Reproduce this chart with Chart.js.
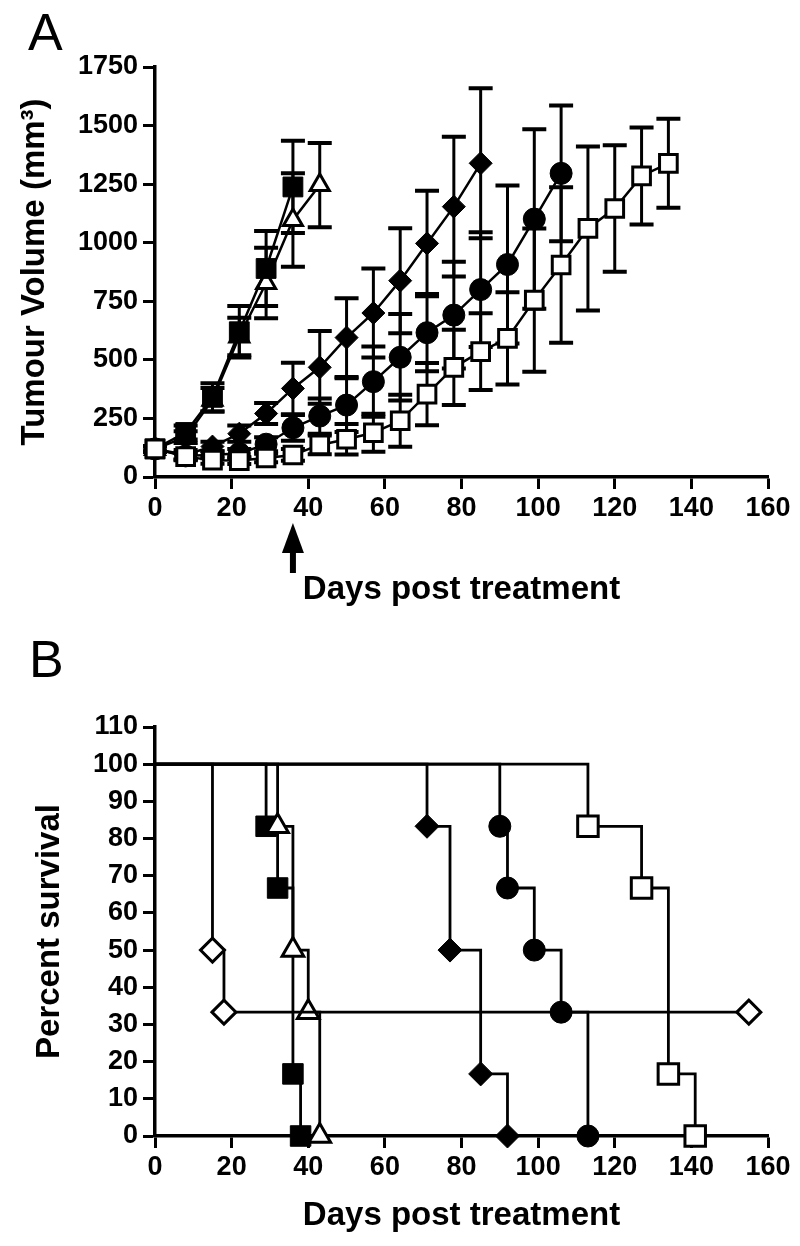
<!DOCTYPE html>
<html>
<head>
<meta charset="utf-8">
<script src="https://cdn.jsdelivr.net/npm/chart.js@4.4.1/dist/chart.umd.min.js"></script>
<style>
  body { margin: 0; background: #fff; width: 800px; height: 1246px; position: relative; overflow: hidden; }
  canvas { position: absolute; left: 0; }
  #chartA { top: 0; }
  #chartB { top: 620px; }
  .panel { position: absolute; font-family: "Liberation Sans", Arial, sans-serif; font-size: 52px; line-height: 52px; color: #000; }
</style>
</head>
<body>
<canvas id="chartA" width="800" height="620"></canvas>
<canvas id="chartB" width="800" height="626"></canvas>
<div class="panel" style="left:28px; top:6px;">A</div>
<div class="panel" style="left:29px; top:633px;">B</div>
<script>
// ---- panel A: tumour volume ----
var tumourDays = [0, 8, 15, 22, 29, 36, 43, 50, 57, 64, 71, 78, 85, 92, 99, 106, 113, 120, 127, 134];

var openSquareVol = [120, 87, 72, 70, 81, 94, 137, 161, 189, 240, 354, 468, 535, 592, 755, 905, 1061, 1146, 1285, 1339];
var openSquareErr = [12, 15, 15, 15, 18, 25, 40, 65, 81, 111, 133, 161, 164, 197, 306, 332, 350, 270, 207, 190];

var filledSquareVol = [120, 190, 340, 620, 890, 1238];
var filledSquareErr = [12, 30, 60, 110, 160, 197];

var triangleVol = [120, 170, 330, 600, 828, 1097, 1246];
var triangleErr = [12, 25, 50, 80, 150, 200, 180];

var diamondVol = [120, 95, 130, 185, 271, 378, 468, 595, 700, 838, 997, 1154, 1339];
var diamondErr = [12, 20, 20, 35, 45, 110, 155, 168, 190, 224, 225, 298, 320];

var circleVol = [120, 90, 95, 100, 140, 210, 260, 307, 407, 511, 616, 691, 800, 907, 1101, 1296];
var circleErr = [12, 15, 15, 20, 30, 55, 75, 115, 150, 185, 165, 228, 245, 337, 383, 290];

var volumeTicks = [0, 250, 500, 750, 1000, 1250, 1500, 1750];
var dayTicks = [0, 20, 40, 60, 80, 100, 120, 140, 160];
var arrowDay = 36;

// ---- panel B: survival ----
var survOpenDiamondDays = [0, 15, 18, 155];
var survOpenDiamondPct = [100, 50, 33.3, 33.3];
var survFilledSquareDays = [0, 29, 32, 36, 38];
var survFilledSquarePct = [100, 83.3, 66.7, 16.7, 0];
var survTriangleDays = [0, 32, 36, 40, 43];
var survTrianglePct = [100, 83.3, 50, 33.3, 0];
var survDiamondDays = [0, 71, 77, 85, 92];
var survDiamondPct = [100, 83.3, 50, 16.7, 0];
var survCircleDays = [0, 90, 92, 99, 106, 113];
var survCirclePct = [100, 83.3, 66.7, 50, 33.3, 0];
var survOpenSquareDays = [0, 113, 127, 134, 141];
var survOpenSquarePct = [100, 83.3, 66.7, 16.7, 0];

var survivalTicks = [0, 10, 20, 30, 40, 50, 60, 70, 80, 90, 100, 110];

var fontFamily = '"Liberation Sans", Arial, sans-serif';

// draws mean +/- error bars under the markers
var errorBarPlugin = {
    id: 'errorBars',
    beforeDatasetsDraw: function (chart) {
        var ctx = chart.ctx;
        var xs = chart.scales.x, ys = chart.scales.y;
        ctx.save();
        ctx.strokeStyle = '#000';
        chart.data.datasets.forEach(function (ds) {
            if (!ds.errorBars) return;
            ds.data.forEach(function (p, j) {
                var e = ds.errorBars[j];
                var x = xs.getPixelForValue(p.x);
                var yTop = ys.getPixelForValue(p.y + e);
                var yBot = ys.getPixelForValue(p.y - e);
                ctx.lineWidth = 3;
                ctx.beginPath();
                ctx.moveTo(x, yTop);
                ctx.lineTo(x, yBot);
                ctx.stroke();
                ctx.lineWidth = 4;
                ctx.beginPath();
                ctx.moveTo(x - 12, yTop); ctx.lineTo(x + 12, yTop);
                ctx.moveTo(x - 12, yBot); ctx.lineTo(x + 12, yBot);
                ctx.stroke();
            });
        });
        ctx.restore();
    }
};

// treatment arrow below the x axis
var arrowPlugin = {
    id: 'treatmentArrow',
    afterDraw: function (chart) {
        var ctx = chart.ctx;
        var x = chart.scales.x.getPixelForValue(arrowDay);
        var b = chart.chartArea.bottom;
        ctx.save();
        ctx.fillStyle = '#000';
        ctx.beginPath();
        ctx.moveTo(x, b + 46);
        ctx.lineTo(x + 11, b + 76);
        ctx.lineTo(x - 11, b + 76);
        ctx.closePath();
        ctx.fill();
        ctx.fillRect(x - 3, b + 74, 6, 22);
        ctx.restore();
    }
};

function plainLabel(v) { return String(v); }

function xAxis(height) {
    return {
        type: 'linear', min: 0, max: 160,
        afterBuildTicks: function (s) { s.ticks = dayTicks.map(function (v) { return {value: v}; }); },
        afterFit: function (s) { s.height = height; },
        grid: { drawOnChartArea: false, drawTicks: true, tickLength: 12, tickWidth: 3, tickColor: '#000' },
        border: { display: true, color: '#000', width: 3.5 },
        ticks: { color: '#000', padding: 3, maxRotation: 0, autoSkip: false, callback: plainLabel,
                 font: { family: fontFamily, size: 27, weight: 'bold' } },
        title: { display: true, text: 'Days post treatment', color: '#000',
                 padding: { top: 0, bottom: 10 },
                 font: { family: fontFamily, size: 33, weight: 'bold', lineHeight: 1.2 } }
    };
}

function yAxis(tickList, max, titleText, titlePad) {
    return {
        type: 'linear', min: 0, max: max,
        afterBuildTicks: function (s) { s.ticks = tickList.map(function (v) { return {value: v}; }); },
        afterFit: function (s) { s.width = 155; },
        grid: { drawOnChartArea: false, drawTicks: true, tickLength: 12, tickWidth: 3, tickColor: '#000' },
        border: { display: true, color: '#000', width: 3.5 },
        ticks: { color: '#000', padding: 5, autoSkip: false, callback: plainLabel,
                 font: { family: fontFamily, size: 27, weight: 'bold' } },
        title: { display: true, text: titleText, color: '#000',
                 padding: { top: titlePad, bottom: 0 },
                 font: { family: fontFamily, size: 33, weight: 'bold', lineHeight: 1.2 } }
    };
}

function volSeries(vals, errs, style, radius, fill, bw) {
    return {
        data: vals.map(function (v, i) { return {x: tumourDays[i], y: v}; }),
        errorBars: errs,
        borderColor: '#000',
        borderWidth: 2.5,
        pointStyle: style,
        pointRadius: radius,
        pointBackgroundColor: fill,
        pointBorderColor: '#000',
        pointBorderWidth: bw,
        clip: false
    };
}

function survSeries(days, pct, style, radius, fill, bw) {
    return {
        data: days.map(function (d, i) { return {x: d, y: pct[i]}; }),
        stepped: true,
        borderColor: '#000',
        borderWidth: 2.8,
        pointStyle: style,
        pointRadius: function (c) { return c.dataIndex === 0 ? 0 : radius; },
        pointBackgroundColor: fill,
        pointBorderColor: '#000',
        pointBorderWidth: bw,
        clip: false
    };
}

new Chart(document.getElementById('chartA'), {
    type: 'line',
    data: {
        datasets: [
            volSeries(openSquareVol, openSquareErr, 'rect', 12.5, '#fff', 3),
            volSeries(filledSquareVol, filledSquareErr, 'rect', 14, '#000', 1),
            volSeries(triangleVol, triangleErr, 'triangle', 11, '#fff', 3),
            volSeries(diamondVol, diamondErr, 'rectRot', 11.5, '#000', 1),
            volSeries(circleVol, circleErr, 'circle', 11, '#000', 1)
        ]
    },
    options: {
        responsive: false,
        animation: false,
        layout: { padding: { top: 67, right: 32, bottom: 0, left: 0 } },
        plugins: { legend: { display: false }, tooltip: { enabled: false } },
        scales: {
            x: xAxis(143),
            y: yAxis(volumeTicks, 1750, 'Tumour Volume (mm\u00b3)', 15)
        }
    },
    plugins: [errorBarPlugin, arrowPlugin]
});

new Chart(document.getElementById('chartB'), {
    type: 'line',
    data: {
        datasets: [
            survSeries(survOpenSquareDays, survOpenSquarePct, 'rect', 14.5, '#fff', 3),
            survSeries(survOpenDiamondDays, survOpenDiamondPct, 'rectRot', 12, '#fff', 3),
            survSeries(survTriangleDays, survTrianglePct, 'triangle', 12.5, '#fff', 3),
            survSeries(survFilledSquareDays, survFilledSquarePct, 'rect', 14.5, '#000', 1),
            survSeries(survDiamondDays, survDiamondPct, 'rectRot', 12, '#000', 1),
            survSeries(survCircleDays, survCirclePct, 'circle', 11, '#000', 1)
        ]
    },
    options: {
        responsive: false,
        animation: false,
        layout: { padding: { top: 107, right: 32, bottom: 0, left: 0 } },
        plugins: { legend: { display: false }, tooltip: { enabled: false } },
        scales: {
            x: xAxis(110),
            y: yAxis(survivalTicks, 110, 'Percent survival', 30)
        }
    }
});
</script>
</body>
</html>
